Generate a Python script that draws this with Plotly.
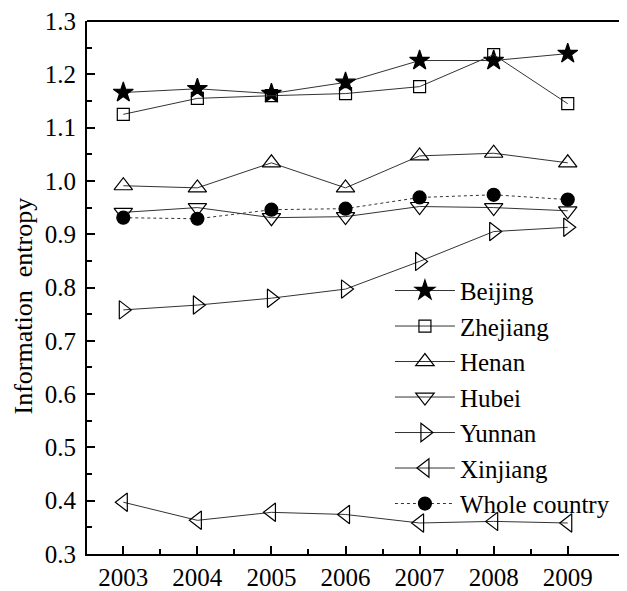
import plotly.graph_objects as go

years = [2003, 2004, 2005, 2006, 2007, 2008, 2009]
beijing = [1.166, 1.173, 1.164, 1.185, 1.226, 1.226, 1.239]
zhejiang = [1.125, 1.155, 1.160, 1.164, 1.177, 1.237, 1.145]
henan = [0.991, 0.987, 1.034, 0.987, 1.047, 1.052, 1.034]
hubei = [0.941, 0.950, 0.931, 0.933, 0.952, 0.950, 0.944]
yunnan = [0.758, 0.767, 0.780, 0.797, 0.849, 0.905, 0.913]
xinjiang = [0.397, 0.363, 0.378, 0.374, 0.358, 0.361, 0.358]
whole = [0.931, 0.929, 0.946, 0.948, 0.969, 0.974, 0.965]
y_ticks = [0.3, 0.4, 0.5, 0.6, 0.7, 0.8, 0.9, 1.0, 1.1, 1.2, 1.3]
y_labels = ["0.3", "0.4", "0.5", "0.6", "0.7", "0.8", "0.9", "1.0", "1.1", "1.2", "1.3"]

FONT = '"Liberation Serif", "Times New Roman", serif'

series = [
    ("Beijing", beijing, "star", 15, "black", "solid"),
    ("Zhejiang", zhejiang, "square-open", 12, "black", "solid"),
    ("Henan", henan, "triangle-up-open", 16, "black", "solid"),
    ("Hubei", hubei, "triangle-down-open", 16, "black", "solid"),
    ("Yunnan", yunnan, "triangle-right-open", 16, "black", "solid"),
    ("Xinjiang", xinjiang, "triangle-left-open", 16, "black", "solid"),
    ("Whole country", whole, "circle", 13, "black", "dot"),
]

fig = go.Figure()
for name, vals, sym, size, col, dash in series:
    fig.add_trace(go.Scatter(
        x=years, y=vals, name=name, mode="lines+markers",
        line=dict(color="#333333", width=1, dash=dash),
        marker=dict(symbol=sym, size=size, color=col,
                    line=dict(color="black", width=1.2)),
    ))

fig.update_layout(
    width=619, height=583,
    margin=dict(l=79, r=0, t=13, b=34),
    paper_bgcolor="white", plot_bgcolor="white",
    font=dict(family=FONT, size=24, color="black"),
    showlegend=True,
    legend=dict(x=0.561, y=0.537, xanchor="left", yanchor="top",
                bgcolor="rgba(0,0,0,0)", font=dict(size=25, family=FONT),
                itemwidth=60),
    xaxis=dict(range=[2002.51, 2009.8], tickmode="array", tickvals=years,
               ticks="inside", ticklen=8, tickwidth=1.5, tickcolor="black",
               showline=True, linecolor="black", linewidth=2,
               showgrid=False, zeroline=False,
               minor=dict(tickvals=[y + 0.5 for y in years[:-1]], ticks="inside",
                          ticklen=5, tickwidth=1.5, tickcolor="black"),
               tickfont=dict(size=25)),
    yaxis=dict(range=[0.2998, 1.3002], tickmode="array",
               tickvals=y_ticks, ticktext=y_labels,
               ticks="inside", ticklen=8, tickwidth=1.5, tickcolor="black",
               showline=True, linecolor="black", linewidth=2,
               showgrid=False, zeroline=False, ticklabeloverflow="allow",
               ticklabelstandoff=4,
               minor=dict(tickvals=[0.35, 0.45, 0.55, 0.65, 0.75, 0.85, 0.95, 1.05, 1.15, 1.25],
                          ticks="inside", ticklen=5, tickwidth=1.5,
                          tickcolor="black"),
               tickfont=dict(size=25)),
)
fig.add_shape(type="line", xref="paper", yref="paper", x0=0, x1=1, y0=1, y1=1,
              line=dict(color="black", width=2))
fig.add_annotation(text="Information  entropy", xref="paper", yref="paper",
                   x=-0.117, y=0.466, xanchor="center", yanchor="middle",
                   textangle=-90, showarrow=False, font=dict(size=26, family=FONT))

fig.write_html("out.html")
